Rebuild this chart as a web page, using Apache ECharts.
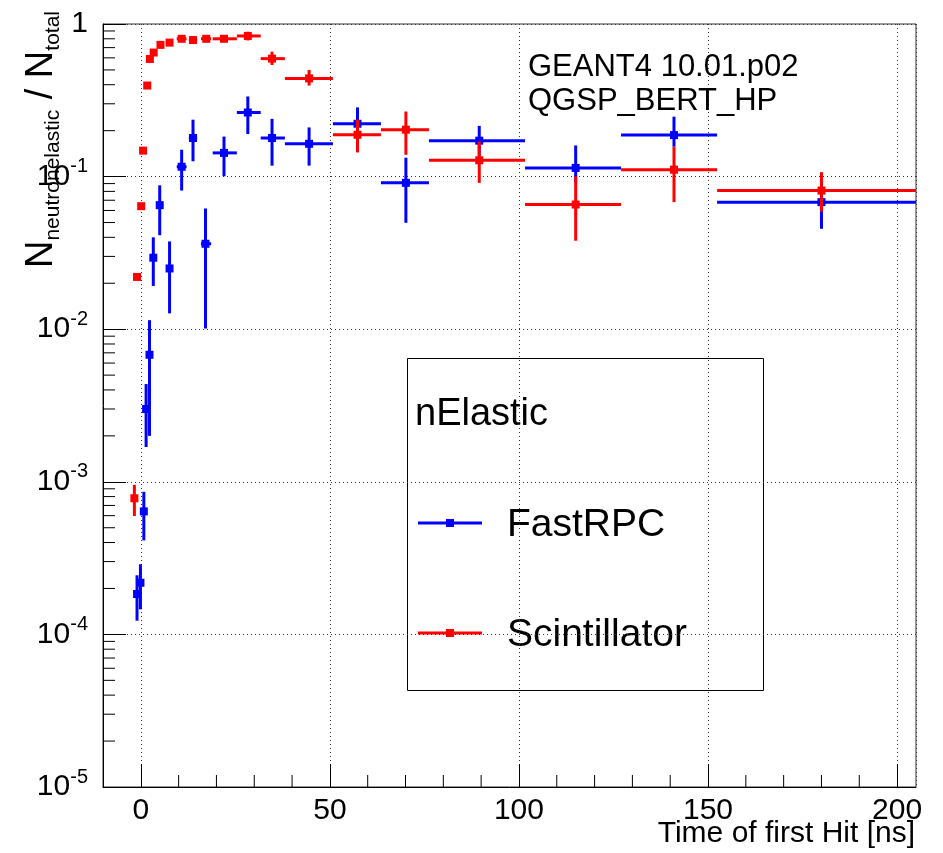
<!DOCTYPE html>
<html>
<head>
<meta charset="utf-8">
<script src="https://cdn.jsdelivr.net/npm/echarts@6/dist/echarts.min.js"></script>
<style>
  html, body { margin: 0; padding: 0; background: #fff; }
  #chart { width: 943px; height: 853px; }
</style>
</head>
<body>
<div id="chart"></div>
<script>
// FastRPC (blue): bin centre, bin edges, value, lower / upper error
var rpcT   = [-1.0, -0.1, 0.8, 1.4, 2.3, 3.3, 5.0, 7.6, 10.8, 13.8, 17.1, 22.0, 28.3, 34.7, 44.5, 57.3, 70.1, 89.5, 115.0, 141.0, 180.0];
var rpcTLo = [-1.3, -0.4, 0.5, 1.1, 2.0, 2.9, 4.6, 6.8, 9.5, 12.7, 15.9, 19.0, 25.4, 31.7, 38.1, 50.8, 63.5, 76.2, 101.6, 127.0, 152.4];
var rpcTHi = [-0.7, 0.2, 1.1, 1.7, 2.6, 3.7, 5.4, 8.4, 12.1, 14.9, 18.6, 25.4, 31.7, 38.1, 50.8, 63.5, 76.2, 101.6, 127.0, 152.4, 205];
var rpcV   = [1.84e-4, 2.18e-4, 6.4e-4, 3.0e-3, 6.8e-3, 0.0294, 0.065, 0.025, 0.116, 0.179, 0.0363, 0.143, 0.263, 0.179, 0.164, 0.222, 0.091, 0.172, 0.114, 0.187, 0.068];
var rpcLo  = [1.23e-4, 1.46e-4, 4.13e-4, 1.69e-3, 2.0e-3, 0.0192, 0.0413, 0.0127, 0.081, 0.126, 0.0101, 0.1005, 0.190, 0.118, 0.118, 0.175, 0.0498, 0.136, 0.092, 0.157, 0.0455];
var rpcHi  = [2.44e-4, 2.88e-4, 8.6e-4, 4.37e-3, 0.01146, 0.040, 0.0877, 0.0376, 0.150, 0.236, 0.0618, 0.183, 0.335, 0.239, 0.210, 0.284, 0.133, 0.215, 0.160, 0.247, 0.092];

// Scintillator (red)
var sciT   = [-1.7, -1.0, 0.1, 0.6, 1.7, 2.4, 3.4, 5.2, 7.6, 10.8, 13.8, 17.3, 22.0, 28.3, 34.7, 44.5, 57.3, 70.1, 89.5, 115.0, 141.0, 180.0];
var sciTLo = [-2.0, -1.3, -0.2, 0.3, 1.4, 2.0, 2.9, 4.6, 6.8, 9.5, 12.7, 15.9, 19.0, 25.4, 31.7, 38.1, 50.8, 63.5, 76.2, 101.6, 127.0, 152.4];
var sciTHi = [-1.4, -0.7, 0.4, 0.9, 2.0, 2.8, 3.9, 5.8, 8.4, 12.1, 14.9, 18.6, 25.4, 31.7, 38.1, 50.8, 63.5, 76.2, 101.6, 127.0, 152.4, 205];
var sciV   = [7.8e-4, 0.022, 0.064, 0.148, 0.395, 0.59, 0.65, 0.73, 0.755, 0.80, 0.785, 0.80, 0.80, 0.835, 0.593, 0.44, 0.188, 0.203, 0.128, 0.0656, 0.111, 0.081];
var sciLo  = [5.97e-4, 0.021, 0.062, 0.144, 0.385, 0.575, 0.635, 0.715, 0.74, 0.785, 0.77, 0.785, 0.785, 0.78, 0.539, 0.395, 0.144, 0.139, 0.091, 0.038, 0.068, 0.059];
var sciHi  = [9.55e-4, 0.023, 0.066, 0.152, 0.405, 0.605, 0.665, 0.745, 0.77, 0.815, 0.80, 0.815, 0.815, 0.89, 0.659, 0.50, 0.236, 0.267, 0.170, 0.100, 0.157, 0.107];

// minor tick positions (ROOT style)
var xMinorTicks = [10, 20, 30, 40, 60, 70, 80, 90, 110, 120, 130, 140, 160, 170, 180, 190];
var yMinorMult = [2, 3, 4, 5, 6, 7, 8, 9];
var yDecades = [1e-5, 1e-4, 1e-3, 1e-2, 1e-1];

var FONT = '"Liberation Sans", Arial, sans-serif';
var X_MIN = -10, X_MAX = 205, Y_MIN = 1e-5, Y_MAX = 1;

function rows(t, lo, hi, v, vlo, vhi) {
    var out = [];
    for (var i = 0; i < t.length; i++) {
        out.push([t[i], v[i], lo[i], hi[i], vlo[i], vhi[i]]);
    }
    return out;
}

function errorBars(color) {
    return function (params, api) {
        var x = api.value(0), y = api.value(1);
        var c = api.coord([x, y]);
        var l = api.coord([api.value(2), y]);
        var r = api.coord([api.value(3), y]);
        var b = api.coord([x, api.value(4)]);
        var t = api.coord([x, api.value(5)]);
        var st = { stroke: color, lineWidth: 3 };
        return {
            type: "group",
            children: [
                { type: "line", shape: { x1: l[0], y1: c[1], x2: r[0], y2: c[1] }, style: st },
                { type: "line", shape: { x1: c[0], y1: t[1], x2: c[0], y2: b[1] }, style: st },
                { type: "rect", shape: { x: c[0] - 4, y: c[1] - 4, width: 8, height: 8 }, style: { fill: color } },
            ],
        };
    };
}

var tickData = [];
xMinorTicks.forEach(function (x) { tickData.push([x, Y_MIN, 0]); });
yDecades.forEach(function (d) {
    yMinorMult.forEach(function (m) { tickData.push([X_MIN, d * m, 1]); });
});

var chart = echarts.init(document.getElementById("chart"));

var option = {
    animation: false,
    backgroundColor: "#fff",
    textStyle: { fontFamily: FONT },
    grid: {
        left: 103, right: 27, top: 24, bottom: 66,
        show: true, borderColor: "#333", borderWidth: 1,
    },
    xAxis: {
        type: "value",
        min: X_MIN,
        max: X_MAX,
        splitNumber: 4,
        axisLine: { onZero: false, lineStyle: { color: "#000", width: 1 } },
        axisTick: { inside: true, length: 23, lineStyle: { color: "#000" } },
        axisLabel: {
            showMinLabel: false, showMaxLabel: false,
            color: "#000", fontSize: 30, fontFamily: FONT, margin: 9,
        },
        splitLine: { show: true, lineStyle: { color: "#333", type: [1, 3] } },
    },
    yAxis: {
        type: "log",
        logBase: 10,
        min: Y_MIN,
        max: Y_MAX,
        axisLine: { onZero: false, lineStyle: { color: "#000", width: 1 } },
        axisTick: { inside: true, length: 23, lineStyle: { color: "#000" } },
        axisLabel: {
            color: "#000",
            margin: 15,
            formatter: function (v) {
                var e = Math.round(Math.log10(v));
                return e === 0 ? "{b|1}" : "{b|10}{s|" + e + "}";
            },
            rich: {
                b: { fontSize: 30, lineHeight: 40, fontFamily: FONT, color: "#000" },
                s: { fontSize: 20, lineHeight: 20, fontFamily: FONT, color: "#000", verticalAlign: "top" },
            },
        },
        splitLine: { show: true, lineStyle: { color: "#333", type: [1, 3] } },
    },
    series: [
        {
            name: "ticks",
            type: "custom",
            silent: true,
            data: tickData,
            renderItem: function (params, api) {
                var p = api.coord([api.value(0), api.value(1)]);
                if (api.value(2) === 0) {
                    return { type: "line", shape: { x1: p[0], y1: p[1], x2: p[0], y2: p[1] - 12 }, style: { stroke: "#000", lineWidth: 1 } };
                }
                return { type: "line", shape: { x1: p[0], y1: p[1], x2: p[0] + 12, y2: p[1] }, style: { stroke: "#000", lineWidth: 1 } };
            },
        },
        {
            name: "FastRPC",
            type: "custom",
            data: rows(rpcT, rpcTLo, rpcTHi, rpcV, rpcLo, rpcHi),
            renderItem: errorBars("#0000ff"),
            z: 3,
        },
        {
            name: "Scintillator",
            type: "custom",
            data: rows(sciT, sciTLo, sciTHi, sciV, sciLo, sciHi),
            renderItem: errorBars("#ff0000"),
            z: 4,
        },
    ],
    graphic: [
        {
            type: "text", x: 42, y: 268, rotation: Math.PI / 2, z: 50,
            style: {
                text: "{n|N}{sub|neutronelastic}{n| / N}{sub|total}",
                align: "left", verticalAlign: "middle",
                rich: {
                    n: { fontSize: 38, lineHeight: 44, fontFamily: FONT, fill: "#000" },
                    sub: { fontSize: 21, lineHeight: 21, fontFamily: FONT, fill: "#000", verticalAlign: "bottom" },
                },
            },
        },
        {
            type: "text", x: 915, y: 834, z: 50,
            style: { text: "Time of first Hit [ns]", font: "30px " + FONT, fill: "#000", align: "right", verticalAlign: "middle" },
        },
        {
            type: "text", x: 528, y: 67, z: 50,
            style: { text: "GEANT4 10.01.p02", font: "31px " + FONT, fill: "#000", align: "left", verticalAlign: "middle" },
        },
        {
            type: "text", x: 528, y: 101, z: 50,
            style: { text: "QGSP_BERT_HP", font: "31px " + FONT, fill: "#000", align: "left", verticalAlign: "middle" },
        },
        // legend box
        {
            type: "group", z: 60,
            children: [
                { type: "rect", shape: { x: 407.5, y: 358.5, width: 356, height: 332 }, style: { fill: "#fff", stroke: "#000", lineWidth: 1 } },
                { type: "text", x: 415, y: 415, style: { text: "nElastic", font: "38px " + FONT, fill: "#000", verticalAlign: "middle" } },
                { type: "line", shape: { x1: 418, y1: 523, x2: 482, y2: 523 }, style: { stroke: "#0000ff", lineWidth: 3 } },
                { type: "rect", shape: { x: 446, y: 519, width: 8, height: 8 }, style: { fill: "#0000ff" } },
                { type: "text", x: 507, y: 525, style: { text: "FastRPC", font: "39px " + FONT, fill: "#000", verticalAlign: "middle" } },
                { type: "line", shape: { x1: 418, y1: 633, x2: 482, y2: 633 }, style: { stroke: "#ff0000", lineWidth: 3 } },
                { type: "rect", shape: { x: 446, y: 629, width: 8, height: 8 }, style: { fill: "#ff0000" } },
                { type: "text", x: 507, y: 635, style: { text: "Scintillator", font: "39px " + FONT, fill: "#000", verticalAlign: "middle" } },
            ],
        },
    ],
};

chart.setOption(option);
window.onresize = function () { chart.resize(); };
</script>
</body>
</html>
